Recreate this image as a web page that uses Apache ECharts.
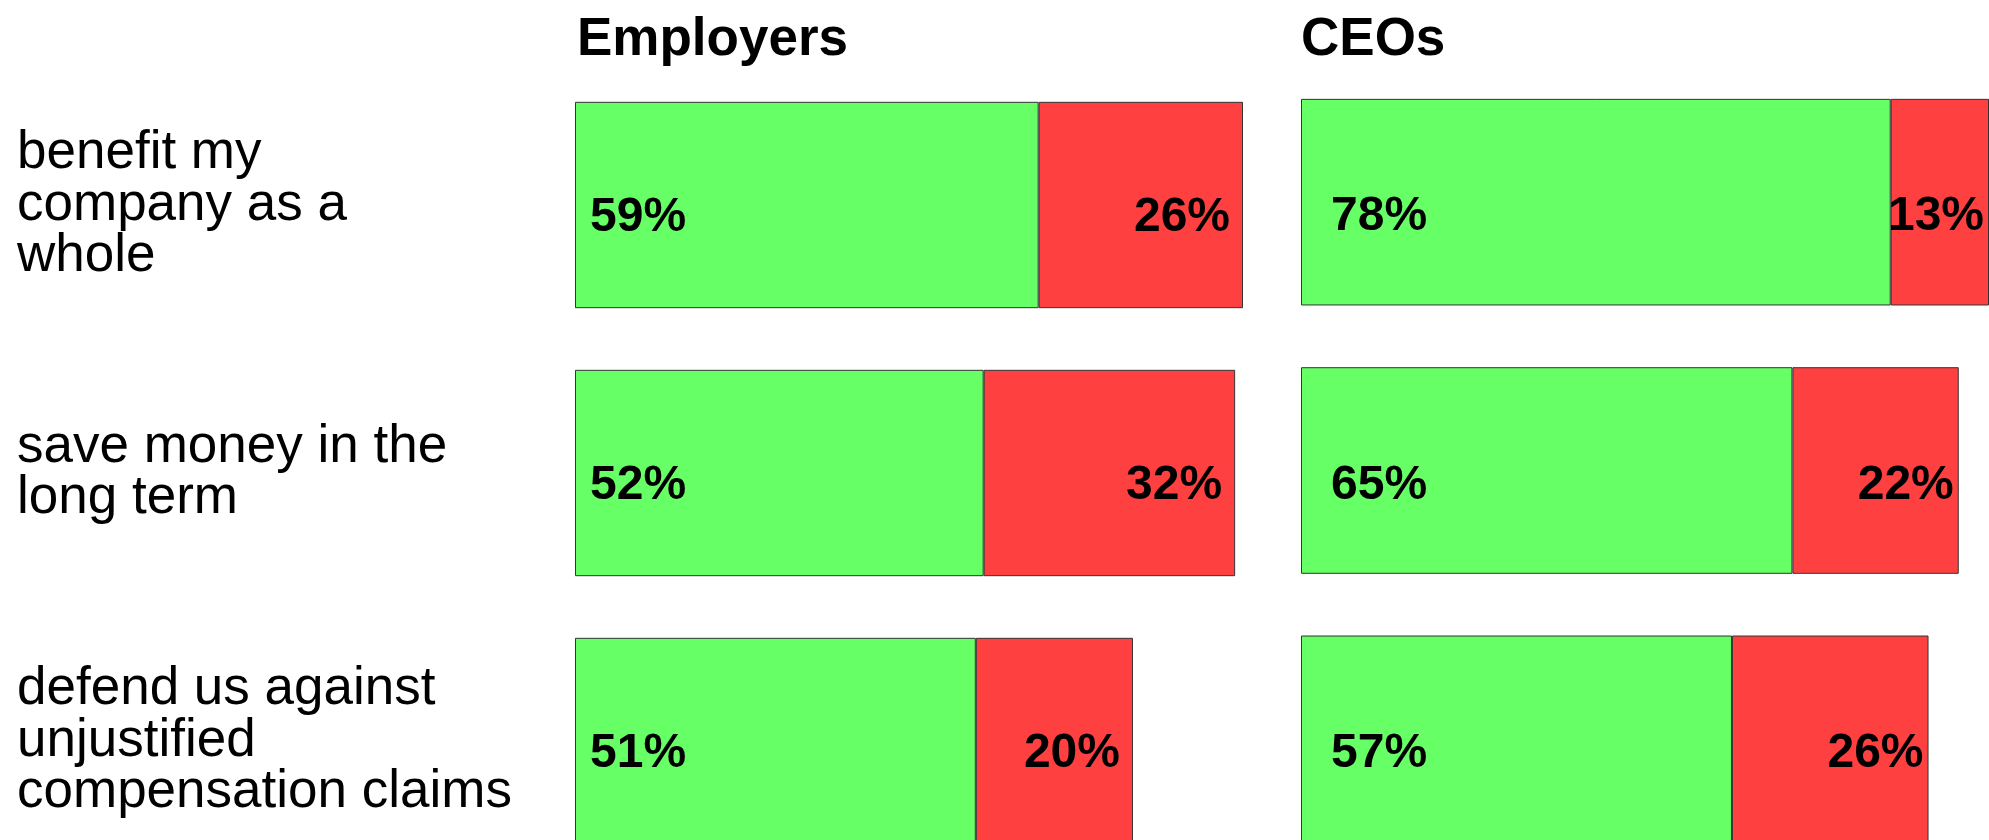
<!DOCTYPE html>
<html>
<head>
<meta charset="utf-8">
<script src="https://cdn.jsdelivr.net/npm/echarts@6/dist/echarts.min.js"></script>
<style>
  html, body { margin: 0; padding: 0; background: #fff; }
  #chart { width: 1989px; height: 840px; }
</style>
</head>
<body>
<div id="chart"></div>
<script>
// ---- data ----
const categories = [
  'benefit my\ncompany as a\nwhole',
  'save money in the\nlong term',
  'defend us against\nunjustified\ncompensation claims'
];
const panelTitles = ['Employers', 'CEOs'];
const employersAgree = [59, 52, 51];
const employersDisagree = [26, 32, 20];
const ceosAgree = [78, 65, 57];
const ceosDisagree = [13, 22, 26];

// ---- styling ----
const FONT = 'Liberation Sans, Arial, Helvetica, sans-serif';
const GREEN = '#66ff66';
const RED = '#ff4040';
const BORDER = '#333333';

function maxTotal(a, b) {
  return Math.max.apply(null, a.map((v, i) => v + b[i]));
}

const chart = echarts.init(document.getElementById('chart'), null, { renderer: 'canvas' });

function barSeries(name, data, axisIdx, color, pos, dist, dy) {
  return {
    type: 'bar',
    name: name,
    stack: 'panel' + axisIdx,
    xAxisIndex: axisIdx,
    yAxisIndex: axisIdx,
    data: data,
    barWidth: '77%',
    itemStyle: { color: color, borderColor: BORDER, borderWidth: 1 },
    label: {
      show: true,
      formatter: '{c}%',
      fontFamily: FONT,
      fontWeight: 'bold',
      fontSize: 48,
      color: '#000',
      position: pos,
      distance: dist,
      offset: [0, dy]
    },
    emphasis: { disabled: true },
    animation: false
  };
}

const titleStyle = { fontFamily: FONT, fontWeight: 'bold', fontSize: 53, color: '#000' };

const option = {
  backgroundColor: '#ffffff',
  animation: false,
  title: [
    { text: panelTitles[0], left: 577, top: 14, padding: 0, textStyle: titleStyle },
    { text: panelTitles[1], left: 1301, top: 14, padding: 0, textStyle: titleStyle }
  ],
  grid: [
    { left: 575, top: 71, width: 668, height: 804, containLabel: false, outerBoundsMode: 'none' },
    { left: 1301, top: 68, width: 688, height: 805, containLabel: false, outerBoundsMode: 'none' }
  ],
  xAxis: [
    { type: 'value', gridIndex: 0, min: 0, max: maxTotal(employersAgree, employersDisagree), show: false },
    { type: 'value', gridIndex: 1, min: 0, max: maxTotal(ceosAgree, ceosDisagree), show: false }
  ],
  yAxis: [
    {
      type: 'category', gridIndex: 0, data: categories, inverse: true,
      axisLine: { show: false }, axisTick: { show: false }, splitLine: { show: false },
      axisLabel: {
        show: true, align: 'left', margin: 558, padding: [12, 0, 0, 0],
        fontFamily: FONT, fontSize: 53, lineHeight: 51.5, color: '#000'
      }
    },
    {
      type: 'category', gridIndex: 1, data: categories, inverse: true,
      axisLine: { show: false }, axisTick: { show: false }, splitLine: { show: false },
      axisLabel: { show: false }
    }
  ],
  series: [
    barSeries('Employers agree', employersAgree, 0, GREEN, 'insideLeft', 15, 13),
    barSeries('Employers disagree', employersDisagree, 0, RED, 'insideRight', 13, 13),
    barSeries('CEOs agree', ceosAgree, 1, GREEN, 'insideLeft', 30, 15),
    barSeries('CEOs disagree', ceosDisagree, 1, RED, 'insideRight', 5, 15)
  ]
};

chart.setOption(option);
</script>
</body>
</html>
